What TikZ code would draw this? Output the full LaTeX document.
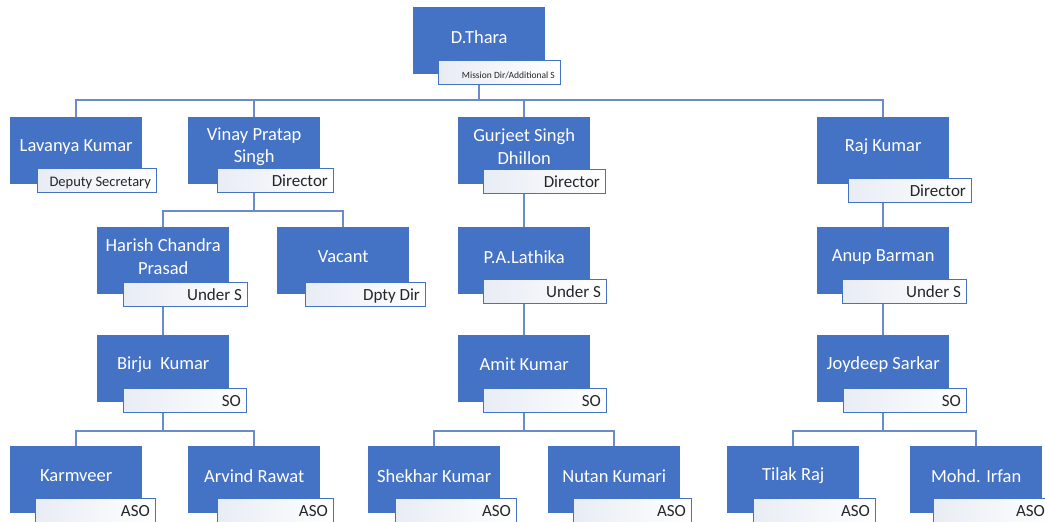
\documentclass[tikz,border=0pt]{standalone}
\usepackage{fontspec}
\setmainfont{Carlito}
\usetikzlibrary{backgrounds}
\definecolor{boxblue}{HTML}{4472C4}
\definecolor{linkblue}{HTML}{6A8CCB}
\definecolor{rolegrey}{HTML}{E8ECF4}
\tikzset{
  box/.style={fill=boxblue, draw=none, anchor=north west,
    minimum width=132pt, minimum height=67pt, inner sep=0pt},
  nametext/.style={text=white, font=\fontsize{18.5}{22.5}\selectfont,
    align=center, inner sep=0pt},
  rolebox/.style={draw=boxblue, line width=1.1pt, left color=rolegrey,
    right color=white, anchor=north west, minimum height=24pt, inner sep=0pt},
  roletext/.style={text=black!85, font=\fontsize{17}{20}\selectfont,
    anchor=base east, inner sep=0pt},
  link/.style={draw=linkblue, line width=1.5pt},
}
% #1 id, #2/#3 top-left of the box, #4 name, #5 role,
% #6/#7 left and right edge of the role tab, #8 top of the role tab
\newcommand\member[8]{%
  \node[box] (#1) at (#2,#3) {};
  \node[nametext] (#1-name) at ([yshift=4pt]#1.center) {#4};
  \node[rolebox, minimum width={(#7-#6)*1pt}] (#1-role) at (#6,#8) {};
  \node[roletext] (#1-title) at ([xshift=-6pt,yshift=-5.5pt]#1-role.east) {#5};
}
\begin{document}
\begin{tikzpicture}[x=1pt, y=-1pt]
\useasboundingbox (0,0) rectangle (1045,522);
\clip (0,0) rectangle (1045,522);

\member{thara}{413}{7}{D.Thara}{\fontsize{9.5}{11}\selectfont Mission Dir/Additional S}{438}{560}{60}

\member{lavanya}{10}{117}{Lavanya Kumar}{\fontsize{14.5}{17}\selectfont Deputy Secretary}{37}{156}{168}
\member{vinay}{188}{117}{Vinay Pratap\\Singh}{Director}{217}{333}{168}
\member{gurjeet}{458}{117}{Gurjeet Singh\\Dhillon}{Director}{483}{605}{169}
\member{raj}{817}{117}{Raj Kumar}{Director}{848}{971}{178}

\member{harish}{97}{227}{Harish Chandra\\Prasad}{Under S}{123}{247}{282}
\member{vacant}{277}{227}{Vacant}{Dpty Dir}{305}{425}{282}
\member{lathika}{458}{227}{P.A.Lathika}{Under S}{483}{606}{279}
\member{anup}{817}{227}{Anup Barman}{Under S}{842}{966}{279}

\member{birju}{97}{335}{Birju\ \ Kumar}{SO}{123}{246}{388}
\member{amit}{458}{335}{Amit Kumar}{SO}{483}{606}{388}
\member{joydeep}{817}{335}{Joydeep Sarkar}{SO}{843}{966}{388}

\member{karmveer}{10}{446}{Karmveer}{ASO}{35}{155}{498}
\member{arvind}{188}{446}{Arvind Rawat}{ASO}{217}{333}{498}
\member{shekhar}{368}{446}{Shekhar Kumar}{ASO}{395}{516}{498}
\member{nutan}{548}{446}{Nutan Kumari}{ASO}{573}{691}{498}
\member{tilak}{727}{446}{Tilak Raj}{ASO}{753}{875}{498}
\member{irfan}{910}{446}{Mohd. Irfan}{ASO}{933}{1050}{498}

% reporting lines, kept behind the boxes
\begin{scope}[on background layer]
  \fill[white] (0,0) rectangle (1045,522);
  \coordinate (bus0) at (0,100);
  \coordinate (bus1) at (0,211);
  \coordinate (bus3) at (0,431);
  \foreach \c in {lavanya,vinay,gurjeet,raj}
    \draw[link] (thara.south) |- (\c.north |- bus0) -- (\c.north);
  \foreach \c in {harish,vacant}
    \draw[link] (vinay.south) |- (\c.north |- bus1) -- (\c.north);
  \draw[link] (gurjeet.south) -- (lathika.north);
  \draw[link] (raj.south) -- (anup.north);
  \draw[link] (harish.south) -- (birju.north);
  \draw[link] (lathika.south) -- (amit.north);
  \draw[link] (anup.south) -- (joydeep.north);
  \foreach \c in {karmveer,arvind}
    \draw[link] (birju.south) |- (\c.north |- bus3) -- (\c.north);
  \foreach \c in {shekhar,nutan}
    \draw[link] (amit.south) |- (\c.north |- bus3) -- (\c.north);
  \foreach \c in {tilak,irfan}
    \draw[link] (joydeep.south) |- (\c.north |- bus3) -- (\c.north);
\end{scope}
\end{tikzpicture}
\end{document}
